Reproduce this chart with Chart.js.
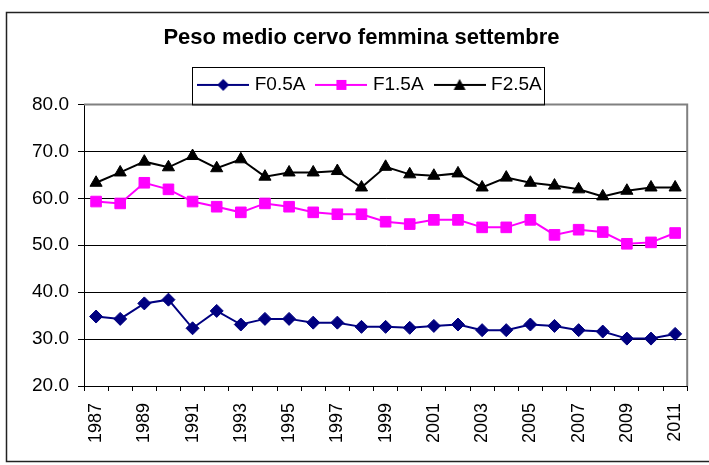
<!DOCTYPE html>
<html>
<head>
<meta charset="utf-8">
<script src="https://cdn.jsdelivr.net/npm/chart.js@4.4.1/dist/chart.umd.min.js"></script>
<style>
    html, body { margin: 0; padding: 0; background: #fff; }
</style>
</head>
<body>
<canvas id="chart" width="709" height="465"></canvas>
<script>
let years = ['1987', '1988', '1989', '1990', '1991', '1992', '1993', '1994', '1995', '1996', '1997', '1998', '1999',
    '2000', '2001', '2002', '2003', '2004', '2005', '2006', '2007', '2008', '2009', '2010', '2011']

let f05 = [34.8, 34.3, 37.6, 38.4, 32.3, 36.0, 33.1, 34.3, 34.3, 33.5, 33.5, 32.6, 32.6,
    32.4, 32.8, 33.1, 31.9, 31.9, 33.1, 32.8, 31.9, 31.6, 30.1, 30.1, 31.1]
let f15 = [59.3, 58.9, 63.3, 61.9, 59.3, 58.2, 57.0, 58.9, 58.2, 57.0, 56.6, 56.6, 55.0,
    54.5, 55.4, 55.4, 53.8, 53.8, 55.4, 52.2, 53.3, 52.8, 50.3, 50.6, 52.6]
let f25 = [63.3, 65.5, 67.8, 66.6, 69.0, 66.4, 68.3, 64.6, 65.5, 65.5, 65.8, 62.3, 66.7,
    65.1, 64.8, 65.3, 62.3, 64.4, 63.3, 62.7, 61.9, 60.4, 61.6, 62.3, 62.3]

let seriesNames = ['F0.5A', 'F1.5A', 'F2.5A']
let yTicks = [20, 30, 40, 50, 60, 70, 80]

const FONT = "'Liberation Sans', Arial, sans-serif"

// piccola icona linea + marker per la legenda
function legendMarker(color, shape) {
    let c = document.createElement('canvas')
    c.width = 52
    c.height = 16
    let ctx = c.getContext('2d')
    ctx.strokeStyle = color
    ctx.fillStyle = color
    ctx.lineWidth = 2
    ctx.beginPath()
    ctx.moveTo(0, 8)
    ctx.lineTo(52, 8)
    ctx.stroke()
    ctx.beginPath()
    if (shape == 'diamond') {
        ctx.moveTo(26, 2); ctx.lineTo(32, 8); ctx.lineTo(26, 14); ctx.lineTo(20, 8)
    } else if (shape == 'square') {
        ctx.rect(21, 3, 10, 10)
    } else {
        ctx.moveTo(26, 2); ctx.lineTo(32, 13); ctx.lineTo(20, 13)
    }
    ctx.closePath()
    ctx.fill()
    return c
}
let markers = [legendMarker('#000080', 'diamond'), legendMarker('#FF00FF', 'square'), legendMarker('#000000', 'triangle')]

let framePlugin = {
    id: 'framePlugin',
    beforeDraw(chart) {
        let ctx = chart.ctx
        ctx.save()
        ctx.fillStyle = '#fff'
        ctx.fillRect(0, 0, chart.width, chart.height)
        ctx.strokeStyle = '#222'
        ctx.lineWidth = 1.5
        ctx.strokeRect(6.5, 12.5, 760, 449)
        ctx.restore()
    },
    afterLayout(chart) {
        chart.legend.left += 10
        chart.legend.right += 10
    },
    beforeDatasetsDraw(chart) {
        let a = chart.chartArea
        let ctx = chart.ctx
        ctx.save()
        ctx.strokeStyle = '#808080'
        ctx.lineWidth = 2
        ctx.beginPath()
        ctx.moveTo(a.left, a.top)
        ctx.lineTo(a.right, a.top)
        ctx.lineTo(a.right, a.bottom)
        ctx.stroke()
        ctx.restore()
    },
    afterDraw(chart) {
        let a = chart.chartArea
        let ctx = chart.ctx
        ctx.save()
        ctx.strokeStyle = '#000'
        ctx.lineWidth = 1
        ctx.strokeRect(192.5, 67.5, 352, a.top - 67)
        ctx.restore()
    }
}

function lineSet(label, values, color, style, radius) {
    return {
        label: label,
        data: values,
        borderColor: color,
        backgroundColor: color,
        borderWidth: 2,
        pointStyle: style,
        pointRadius: radius,
        pointBorderWidth: 1,
        pointBorderColor: color,
        pointBackgroundColor: color,
        tension: 0
    }
}

const config = {
    type: 'line',
    data: {
        labels: years,
        datasets: [
            lineSet(seriesNames[0], f05, '#000080', 'rectRot', 6.5),
            lineSet(seriesNames[1], f15, '#FF00FF', 'rect', 7.5),
            lineSet(seriesNames[2], f25, '#000000', 'triangle', 7)
        ]
    },
    options: {
        responsive: false,
        animation: false,
        layout: {
            padding: {left: 27, right: 13, top: 14, bottom: 0}
        },
        plugins: {
            tooltip: {enabled: false},
            title: {
                display: true,
                text: 'Peso medio cervo femmina settembre',
                color: '#000',
                font: {family: FONT, size: 22, weight: 'bold'},
                padding: {top: 11, bottom: 10}
            },
            legend: {
                display: true,
                position: 'top',
                labels: {
                    color: '#000',
                    font: {family: FONT, size: 19},
                    usePointStyle: true,
                    pointStyleWidth: 44,
                    padding: 14,
                    generateLabels: (chart) => {
                        let items = Chart.defaults.plugins.legend.labels.generateLabels(chart)
                        items.forEach((item, i) => { item.pointStyle = markers[i] })
                        return items
                    }
                }
            }
        },
        scales: {
            x: {
                offset: true,
                grid: {
                    drawOnChartArea: false,
                    drawTicks: true,
                    tickLength: 5,
                    color: '#000',
                    offset: true
                },
                border: {color: '#000', width: 1},
                ticks: {
                    autoSkip: false,
                    maxRotation: 90,
                    minRotation: 90,
                    padding: 12,
                    color: '#000',
                    font: {family: FONT, size: 18},
                    callback: (v, i) => i % 2 == 0 ? years[i] : ''
                },
                afterFit: (scale) => { scale.height = 79 }
            },
            y: {
                min: yTicks[0],
                max: yTicks[yTicks.length - 1],
                afterBuildTicks: (scale) => { scale.ticks = yTicks.map(v => ({value: v})) },
                grid: {
                    color: (c) => c.tick && c.tick.value == 80 ? '#808080' : '#000',
                    tickColor: '#000',
                    tickLength: 6,
                    lineWidth: 1
                },
                border: {color: '#000', width: 1},
                ticks: {
                    padding: 9,
                    color: '#000',
                    font: {family: FONT, size: 19},
                    callback: (v) => Number(v).toFixed(1)
                },
                afterFit: (scale) => { scale.width = 57 }
            }
        }
    },
    plugins: [framePlugin]
}

let chart = new Chart(document.getElementById('chart').getContext('2d'), config)
</script>
</body>
</html>
